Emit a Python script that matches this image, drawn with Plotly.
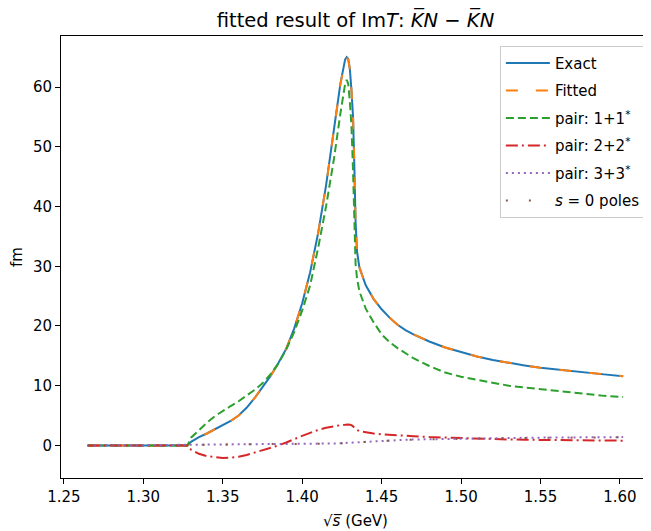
import plotly.graph_objects as go

# sqrt(s) grid (GeV) and curves (fm)
x_main = [1.265, 1.300, 1.3278, 1.330, 1.335, 1.340, 1.345, 1.350, 1.355, 1.360,
          1.365, 1.370, 1.375, 1.380, 1.385, 1.390, 1.395, 1.400, 1.405, 1.410,
          1.415, 1.420, 1.424, 1.427, 1.428, 1.429, 1.430, 1.431, 1.432, 1.4328,
          1.4336, 1.4345, 1.436, 1.440, 1.445, 1.450, 1.455, 1.460, 1.465, 1.470,
          1.480, 1.490, 1.500, 1.510, 1.520, 1.530, 1.540, 1.550, 1.560, 1.570,
          1.580, 1.590, 1.602]
exact = [0.0, 0.0, 0.0, 0.6, 1.4, 2.0, 2.7, 3.4, 4.1, 5.0,
         6.3, 7.9, 9.7, 11.6, 13.8, 16.2, 19.6, 23.8, 29.0, 35.5,
         43.5, 53.0, 60.5, 64.6, 65.0, 64.7, 63.0, 59.5, 55.0, 47.0,
         37.5, 32.5, 29.8, 26.8, 24.5, 22.8, 21.4, 20.2, 19.3, 18.6,
         17.4, 16.4, 15.6, 14.9, 14.3, 13.8, 13.4, 13.0, 12.7, 12.4,
         12.1, 11.9, 11.6]
fitted = [0.0, 0.0, 0.0, 0.6, 1.4, 2.0, 2.7, 3.4, 4.1, 5.0,
          6.3, 7.9, 9.7, 11.6, 13.8, 16.2, 19.6, 23.8, 29.0, 35.5,
          43.5, 53.0, 60.4, 64.5, 64.9, 64.6, 63.0, 59.5, 55.0, 47.0,
          37.5, 32.5, 29.8, 26.8, 24.5, 22.8, 21.4, 20.2, 19.3, 18.6,
          17.4, 16.4, 15.6, 14.9, 14.3, 13.8, 13.4, 13.0, 12.7, 12.4,
          12.1, 11.9, 11.6]
pair1 = [0.0, 0.0, 0.0, 1.3, 2.6, 3.8, 4.9, 5.8, 6.6, 7.4,
         8.3, 9.3, 10.4, 11.9, 13.7, 16.1, 19.0, 22.6, 26.8, 33.0,
         40.0, 48.0, 55.5, 60.5, 61.2, 60.5, 57.5, 53.5, 46.0, 37.0,
         30.4, 28.0, 25.8, 22.9, 20.6, 18.6, 17.3, 16.3, 15.4, 14.6,
         13.3, 12.2, 11.5, 11.0, 10.5, 10.0, 9.7, 9.4, 9.1, 8.8,
         8.5, 8.3, 8.1]
pair2 = [0.0, 0.0, 0.0, -0.7, -1.4, -1.8, -2.0, -2.1, -2.05, -1.9,
         -1.6, -1.2, -0.85, -0.4, 0.0, 0.5, 1.1, 1.6, 2.1, 2.6,
         2.95, 3.25, 3.4, 3.45, 3.5, 3.5, 3.45, 3.4, 3.2, 3.0,
         2.8, 2.6, 2.4, 2.2, 2.0, 1.85, 1.75, 1.7, 1.62, 1.55,
         1.4, 1.3, 1.2, 1.12, 1.05, 1.0, 0.95, 0.92, 0.9, 0.87,
         0.85, 0.82, 0.8]
pair3 = [0.0, 0.0, 0.0, 0.08, 0.12, 0.14, 0.16, 0.18, 0.19, 0.2,
         0.21, 0.21, 0.22, 0.23, 0.24, 0.25, 0.26, 0.27, 0.29, 0.3,
         0.32, 0.33, 0.35, 0.37, 0.38, 0.39, 0.4, 0.4, 0.42, 0.44,
         0.47, 0.5, 0.55, 0.62, 0.72, 0.8, 0.86, 0.9, 0.95, 0.99,
         1.05, 1.1, 1.15, 1.19, 1.22, 1.25, 1.28, 1.31, 1.33, 1.35,
         1.37, 1.39, 1.4]
poles = [0.0, 0.0, 0.0, 0.07, 0.1, 0.12, 0.14, 0.16, 0.17, 0.18,
         0.19, 0.2, 0.2, 0.21, 0.22, 0.23, 0.24, 0.25, 0.27, 0.28,
         0.3, 0.31, 0.33, 0.35, 0.36, 0.37, 0.38, 0.38, 0.4, 0.42,
         0.45, 0.48, 0.52, 0.6, 0.7, 0.78, 0.84, 0.88, 0.93, 0.97,
         1.03, 1.08, 1.13, 1.17, 1.2, 1.23, 1.26, 1.29, 1.31, 1.33,
         1.35, 1.37, 1.38]

x_ticks = [1.25, 1.30, 1.35, 1.40, 1.45, 1.50, 1.55, 1.60]
y_ticks = [0, 10, 20, 30, 40, 50, 60]

FONT = 'DejaVu Sans'
# the page body has an 8px margin, so the figure is drawn shifted by (8, 8);
# margins below are chosen so the plot area lands where the reference has it
PAGE_OFFSET = 8

# (name, values, colour, dash pattern)
series = [
    ('Exact', exact, '#1f77b4', 'solid'),
    ('Fitted', fitted, '#ff7f0e', '12px,18px'),
    ('pair: 1+1<sup>*</sup>', pair1, '#2ca02c', '8px,4px'),
    ('pair: 2+2<sup>*</sup>', pair2, '#d62728', '12px,4px,2px,4px'),
    ('pair: 3+3<sup>*</sup>', pair3, '#9467bd', '2px,4px'),
    ('<i>s</i> = 0 poles', poles, '#8c564b', '2px,21px'),
]

fig = go.Figure()
for i, (name, vals, color, dash) in enumerate(series):
    fig.add_trace(go.Scatter(
        x=x_main, y=vals, mode='lines', name=name,
        legendgroup=str(i),
        line=dict(color=color, width=2, dash=dash),
    ))

axis_common = dict(
    showline=True, mirror=True, linecolor='black', linewidth=1,
    ticks='outside', ticklen=5, tickwidth=1, tickcolor='black',
    showgrid=False, zeroline=False, automargin=False,
    tickfont=dict(family=FONT, size=15, color='black'),
)

fig.update_layout(
    width=651, height=531,
    plot_bgcolor='white', paper_bgcolor='white',
    margin=dict(l=61 - PAGE_OFFSET, r=1 + PAGE_OFFSET,
                t=36 - PAGE_OFFSET, b=53 + PAGE_OFFSET),
    font=dict(family=FONT, color='black'),
    title=dict(
        text='fitted result of Im<i>T</i>: <i>K\u0305N</i> \u2212 <i>K\u0305N</i>',
        x=0.5, xref='paper', y=1 - (20 - PAGE_OFFSET) / 531, yref='container',
        xanchor='center', yanchor='middle',
        font=dict(family=FONT, size=19.5, color='black'),
    ),
    xaxis=dict(
        range=[1.2482, 1.6189], tickvals=x_ticks, tickformat='.2f',
        title=dict(text='\u221a<i>s\u0305</i> (GeV)', standoff=10,
                   font=dict(family=FONT, size=15, color='black')),
        **axis_common,
    ),
    yaxis=dict(
        range=[-5.45, 68.55], tickvals=y_ticks,
        title=dict(text='fm', standoff=20,
                   font=dict(family=FONT, size=15, color='black')),
        **axis_common,
    ),
    legend=dict(
        x=0.993, y=0.978, xanchor='right', yanchor='top',
        bgcolor='rgba(255,255,255,0.8)', bordercolor='#cccccc', borderwidth=1,
        font=dict(family=FONT, size=15, color='black'),
        tracegroupgap=5, itemwidth=44,
    ),
    showlegend=True,
)

fig.write_html('out.html')
